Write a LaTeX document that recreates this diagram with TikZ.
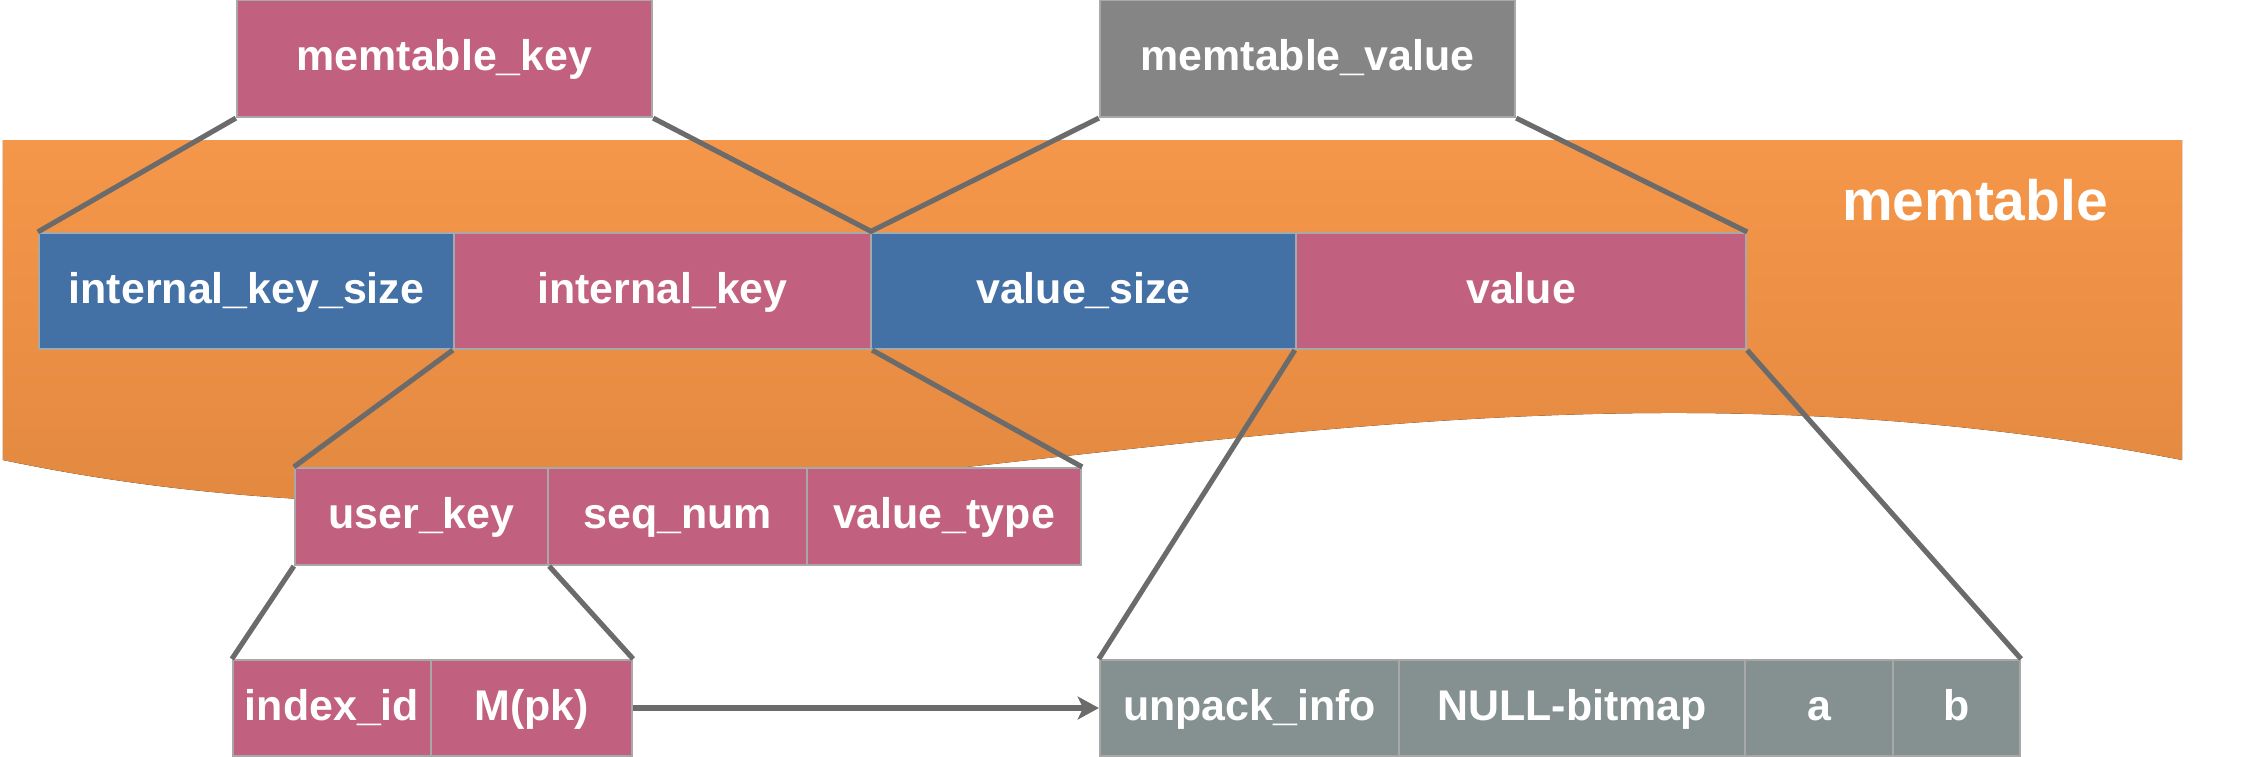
\documentclass[tikz,border=0pt]{standalone}
\usepackage{fontspec}
\setmainfont{Liberation Sans}
\usetikzlibrary{arrows.meta}
\definecolor{keypink}{HTML}{C1617F}
\definecolor{sizeblue}{HTML}{4471A5}
\definecolor{valgray}{HTML}{858585}
\definecolor{rowgray}{HTML}{849190}
\definecolor{bandtop}{HTML}{F5974A}
\definecolor{bandbottom}{HTML}{DD843D}
\definecolor{linkgray}{HTML}{6B6B6B}
\definecolor{fieldedge}{HTML}{A8A8A8}
\begin{document}
\begin{tikzpicture}[x=0.01cm, y=-0.01cm,
  field/.style={rectangle, draw=fieldedge, line width=0.6pt, inner sep=0pt, text=white,
    text height=0.9em, text depth=0.2em,
    font=\fontsize{12.2}{14}\selectfont\bfseries},
  pink/.style={field, fill=keypink},
  blue/.style={field, fill=sizeblue},
  grey/.style={field, fill=valgray},
  slate/.style={field, fill=rowgray},
  link/.style={draw=linkgray, line width=1.45pt}]
  \useasboundingbox (0,0) rectangle (2248,756);
  % Band
  \fill[top color=bandtop, bottom color=bandbottom] (3,140) -- (2182,140) -- (2182,460)
    .. controls (1360,300) and (729,612) .. (3,460) -- cycle;
  \node (band) [text=white, font=\fontsize{16.2}{18}\selectfont\bfseries] at (1975,200) {memtable};
  % Nodes
  \node (mkey) [pink, minimum height=1.17cm, minimum width=4.15cm] at (444.5, 58.5) {memtable\_key};
  \node (mval) [grey, minimum height=1.17cm, minimum width=4.15cm] at (1307.5, 58.5) {memtable\_value};
  \node (iks) [blue, minimum height=1.16cm, minimum width=4.15cm] at (246.5, 291) {internal\_key\_size};
  \node (ik) [pink, minimum height=1.16cm, minimum width=4.17cm] at (662.5, 291) {internal\_key};
  \node (vs) [blue, minimum height=1.16cm, minimum width=4.25cm] at (1083.5, 291) {value\_size};
  \node (val) [pink, minimum height=1.16cm, minimum width=4.5cm] at (1521, 291) {value};
  \node (uk) [pink, minimum height=0.97cm, minimum width=2.53cm] at (421.5, 516.5) {user\_key};
  \node (sn) [pink, minimum height=0.97cm, minimum width=2.59cm] at (677.5, 516.5) {seq\_num};
  \node (vt) [pink, minimum height=0.97cm, minimum width=2.74cm] at (944, 516.5) {value\_type};
  \node (iid) [pink, minimum height=0.96cm, minimum width=1.98cm] at (332, 708) {index\_id};
  \node (mpk) [pink, minimum height=0.96cm, minimum width=2.01cm] at (531.5, 708) {M(pk)};
  \node (ui) [slate, minimum height=0.96cm, minimum width=2.99cm] at (1249.5, 708) {unpack\_info};
  \node (nb) [slate, minimum height=0.96cm, minimum width=3.46cm] at (1572, 708) {NULL-bitmap};
  \node (a) [slate, minimum height=0.96cm, minimum width=1.48cm] at (1819, 708) {a};
  \node (b) [slate, minimum height=0.96cm, minimum width=1.27cm] at (1956.5, 708) {b};
  % Lines
  \draw[link] (mkey.south west) -- (iks.north west);
  \draw[link] (mkey.south east) -- (ik.north east);
  \draw[link] (mval.south west) -- (vs.north west);
  \draw[link] (mval.south east) -- (val.north east);
  \draw[link] (ik.south west) -- (uk.north west);
  \draw[link] (ik.south east) -- (vt.north east);
  \draw[link] (uk.south west) -- (iid.north west);
  \draw[link] (uk.south east) -- (mpk.north east);
  \draw[link] (val.south west) -- (ui.north west);
  \draw[link] (val.south east) -- (b.north east);
  % Arrow
  \draw[link, -{Stealth[length=6pt, width=6.5pt, inset=1.5pt]}] (mpk) -- (ui);
\end{tikzpicture}
\end{document}
